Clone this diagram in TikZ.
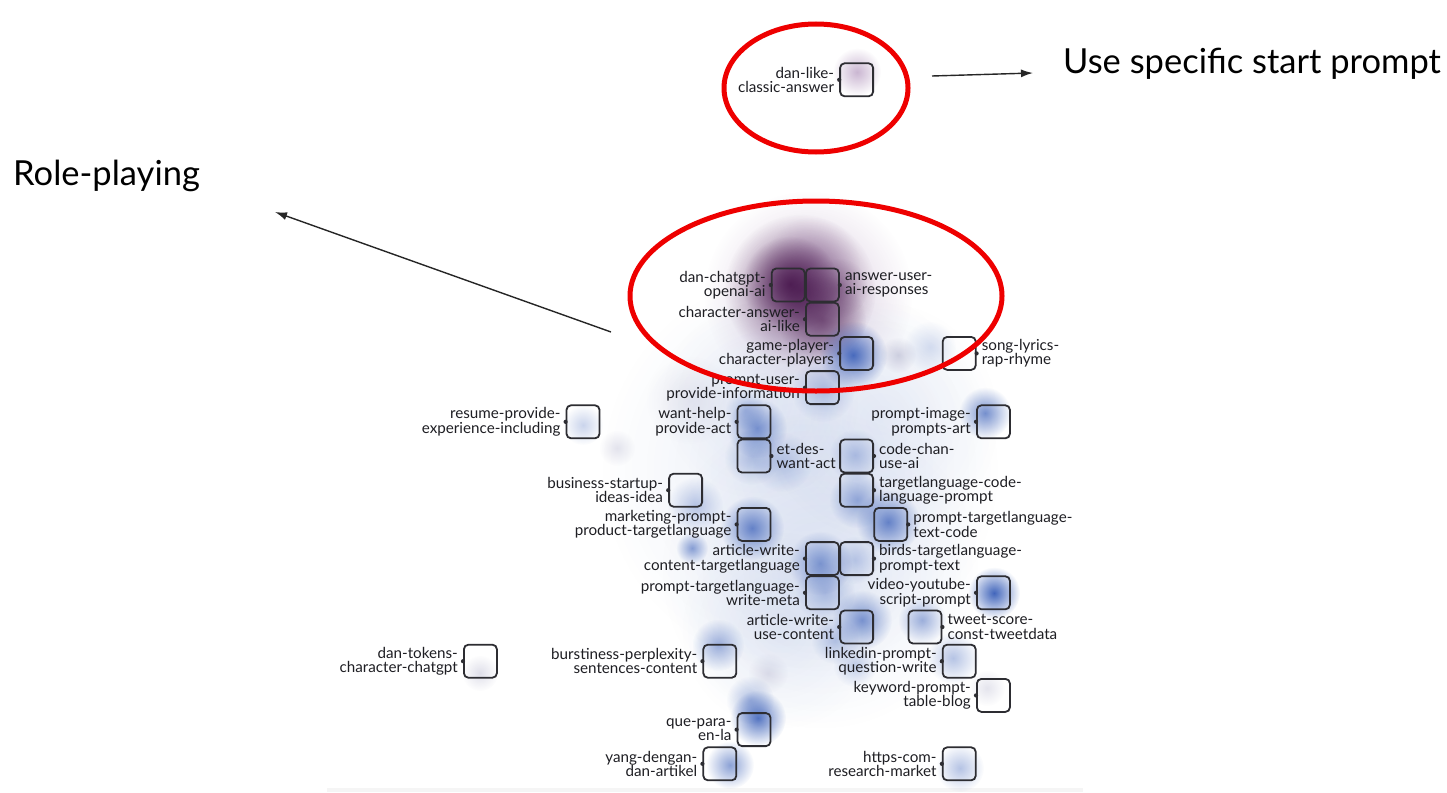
\documentclass[tikz,border=0pt]{standalone}
\usepackage{fontspec}
\setmainfont{Lato}
\usetikzlibrary{fadings,arrows.meta}

\tikzfading[name=blobfade, inner color=transparent!0, outer color=transparent!100]

\definecolor{densblue}{RGB}{45,85,180}
\definecolor{densgray}{RGB}{150,150,185}
\definecolor{densplum}{RGB}{70,20,75}
\definecolor{denslav}{RGB}{150,110,165}
\definecolor{boxline}{RGB}{45,45,50}
\definecolor{labeltext}{RGB}{30,30,35}
\definecolor{ringred}{RGB}{238,0,0}

% density blob: x, y, visible radius, colour, opacity
\newcommand\blob[5]{\fill[#4, opacity=#5, path fading=blobfade] (#1,#2) circle ({2*#3});}

% topic square on the grid (column, row) with its label on the left or the right
\newcommand\topicL[4]{%
  \node[topicbox] (#1) at ({754+34.2*#2},{285+34.2*#3}) {};
  \fill[boxline] (#1.west) circle (2.1);
  \node[topiclabel, anchor=east, align=right] (#1-lab) at ([xshift=-5pt]#1.west) {#4};
}
\newcommand\topicR[4]{%
  \node[topicbox] (#1) at ({754+34.2*#2},{285+34.2*#3}) {};
  \fill[boxline] (#1.east) circle (2.1);
  \node[topiclabel, anchor=west, align=left] (#1-lab) at ([xshift=5pt]#1.east) {#4};
}

\begin{document}
\begin{tikzpicture}[x=1pt, y=-1pt,
  topicbox/.style={draw=boxline, line width=1.8pt, rounded corners=4.5pt,
    minimum size=33pt, inner sep=0pt},
  topiclabel/.style={inner sep=0pt, text=labeltext,
    font=\fontsize{15.2}{14.4}\selectfont},
  note/.style={inner sep=0pt, text=black, font=\fontsize{34.5}{38}\selectfont},
  ring/.style={draw=ringred, line width=5pt},
  pointer/.style={draw=black!85, line width=1.4pt,
    -{Latex[length=12pt, width=8pt]}}]

\useasboundingbox (0,0) rectangle (1447,792);
\fill[white] (0,0) rectangle (1447,792);
\fill[black!4] (327,788) rectangle (1083,792);

% ---- background haze of the central cluster
\blob{800}{470}{100}{densblue}{0.11}
\blob{820}{570}{80}{densblue}{0.11}
\blob{780}{630}{50}{densblue}{0.08}
\blob{880}{420}{60}{densblue}{0.08}
\blob{760}{400}{50}{densblue}{0.08}
\blob{690}{400}{22}{densgray}{0.18}

% ---- purple core
\blob{808}{295}{52}{denslav}{0.38}
\blob{812}{265}{24}{denslav}{0.30}
\blob{800}{290}{38}{densplum}{0.70}
\blob{790}{284}{24}{densplum}{0.85}
\blob{822}{320}{22}{densplum}{0.55}
\blob{838}{288}{15}{densplum}{0.30}

% ---- blue density spots
\blob{853}{355}{17}{densblue}{0.85}
\blob{898}{355}{9}{densgray}{0.40}
\blob{930}{347}{13}{densblue}{0.18}
\blob{823}{390}{16}{densblue}{0.30}
\blob{757}{428}{15}{densblue}{0.60}
\blob{745}{410}{10}{densblue}{0.30}
\blob{752}{457}{14}{densblue}{0.30}
\blob{782}{462}{15}{densblue}{0.25}
\blob{985}{413}{13}{densblue}{0.65}
\blob{855}{455}{13}{densblue}{0.30}
\blob{857}{500}{14}{densblue}{0.45}
\blob{888}{522}{16}{densblue}{0.70}
\blob{752}{528}{16}{densblue}{0.70}
\blob{695}{505}{14}{densblue}{0.30}
\blob{583}{425}{10}{densblue}{0.25}
\blob{617}{448}{9}{densgray}{0.25}
\blob{692}{548}{8}{densblue}{0.55}
\blob{820}{563}{16}{densblue}{0.55}
\blob{855}{560}{12}{densblue}{0.25}
\blob{825}{592}{15}{densblue}{0.30}
\blob{994}{593}{13}{densblue}{0.90}
\blob{862}{620}{15}{densblue}{0.60}
\blob{835}{640}{12}{densblue}{0.30}
\blob{922}{620}{12}{densblue}{0.45}
\blob{953}{658}{13}{densblue}{0.35}
\blob{855}{665}{11}{densblue}{0.25}
\blob{768}{673}{10}{densgray}{0.25}
\blob{987}{688}{9}{densgray}{0.25}
\blob{960}{768}{12}{densblue}{0.35}
\blob{480}{673}{9}{densgray}{0.30}
\blob{718}{645}{13}{densblue}{0.45}
\blob{758}{718}{14}{densblue}{0.80}
\blob{750}{700}{12}{densblue}{0.35}
\blob{730}{765}{12}{densblue}{0.55}
\blob{857}{72}{12}{denslav}{0.50}

% ---- topic squares
\topicL{danlike}{3}{-6}{dan-like-\\classic-answer}
\topicL{danchat}{1}{0}{dan-chatgpt-\\openai-ai}
\topicR{answeruser}{2}{0}{answer-user-\\ai-responses}
\topicL{charanswer}{2}{1}{character-answer-\\ai-like}
\topicL{gameplayer}{3}{2}{game-player-\\character-players}
\topicR{songlyrics}{6}{2}{song-lyrics-\\rap-rhyme}
\topicL{promptuser}{2}{3}{prompt-user-\\provide-information}
\topicL{wanthelp}{0}{4}{want-help-\\provide-act}
\topicR{etdes}{0}{5}{et-des-\\want-act}
\topicL{promptimage}{7}{4}{prompt-image-\\prompts-art}
\topicR{codechan}{3}{5}{code-chan-\\use-ai}
\topicR{tlcode}{3}{6}{targetlanguage-code-\\language-prompt}
\topicR{ptltext}{4}{7}{prompt-targetlanguage-\\text-code}
\topicL{marketing}{0}{7}{marketing-prompt-\\product-targetlanguage}
\topicL{business}{-2}{6}{business-startup-\\ideas-idea}
\topicL{resume}{-5}{4}{resume-provide-\\experience-including}
\topicL{articlecontent}{2}{8}{article-write-\\content-targetlanguage}
\topicR{birds}{3}{8}{birds-targetlanguage-\\prompt-text}
\topicL{ptlwrite}{2}{9}{prompt-targetlanguage-\\write-meta}
\topicL{video}{7}{9}{video-youtube-\\script-prompt}
\topicL{articleuse}{3}{10}{article-write-\\use-content}
\topicR{tweet}{5}{10}{tweet-score-\\const-tweetdata}
\topicL{linkedin}{6}{11}{linkedin-prompt-\\question-write}
\topicL{keyword}{7}{12}{keyword-prompt-\\table-blog}
\topicL{https}{6}{14}{https-com-\\research-market}
\topicL{dantokens}{-8}{11}{dan-tokens-\\character-chatgpt}
\topicL{burstiness}{-1}{11}{burstiness-perplexity-\\sentences-content}
\topicL{quepara}{0}{13}{que-para-\\en-la}
\topicL{yang}{-1}{14}{yang-dengan-\\dan-artikel}

% ---- highlighted groups
\draw[ring] (816,88) ellipse [x radius=92, y radius=64];
\draw[ring] (816,296) ellipse [x radius=186, y radius=95];

% ---- annotations
\node[note, anchor=base west] (startnote) at (1063,73.5) {Use specific start prompt};
\node[note, anchor=base west] (rolenote) at (13,185) {Role-playing};
\coordinate (starttail) at (932,76);
\coordinate (starttip) at (1033,73);
\coordinate (roletail) at (611,332);
\coordinate (roletip) at (275,212);
\draw[pointer] (starttail) -- (starttip);
\draw[pointer] (roletail) -- (roletip);

\end{tikzpicture}
\end{document}
